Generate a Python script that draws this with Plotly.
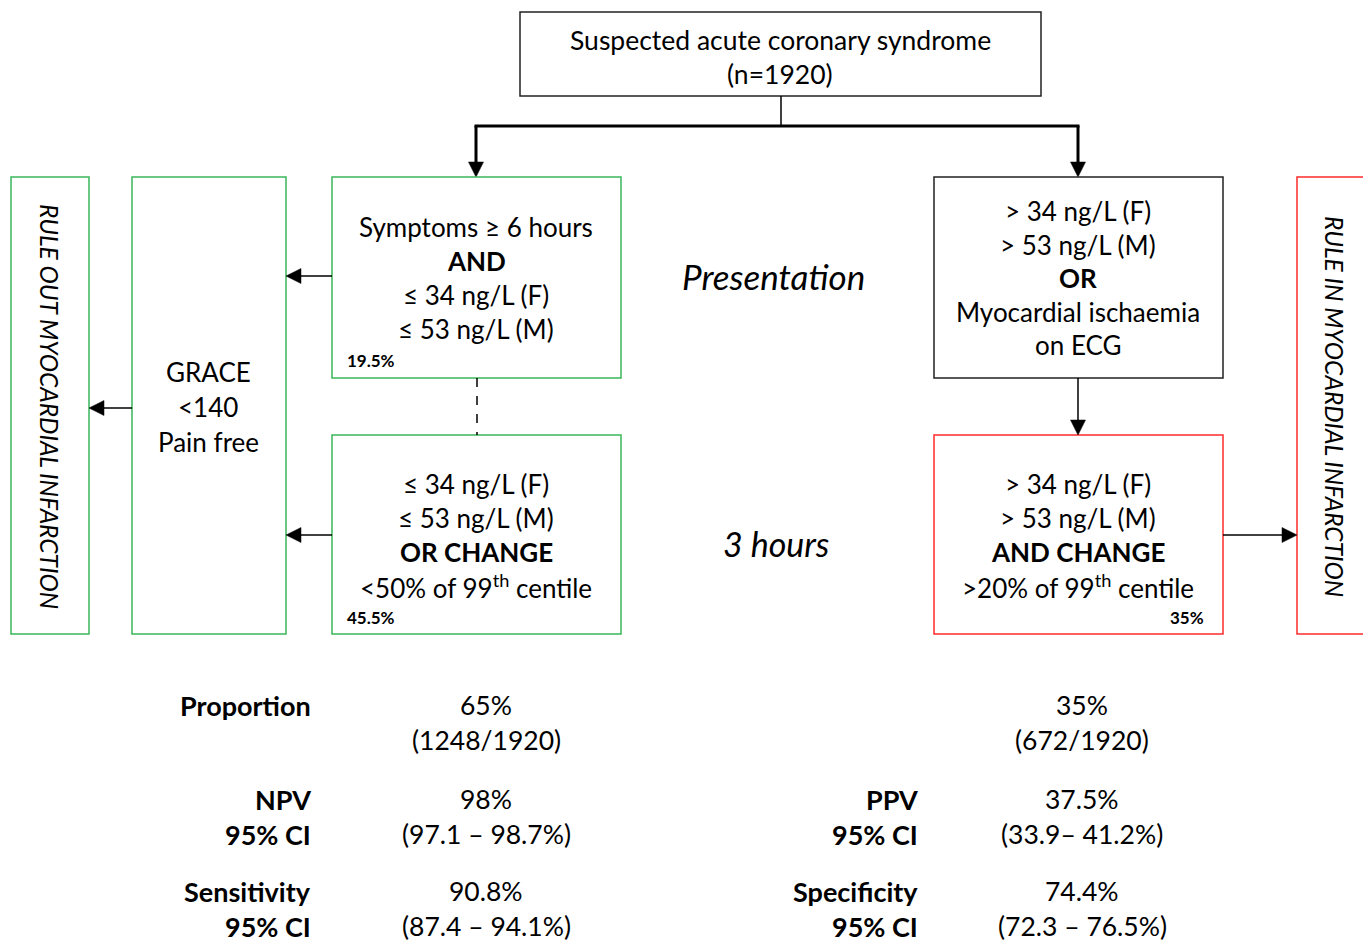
import plotly.graph_objects as go

# ---------------- data (texts) ----------------
top_lines = ["Suspected acute coronary syndrome", "(n=1920)"]
symptoms_lines = ["Symptoms ≥ 6 hours", "<b>AND</b>", "≤ 34 ng/L (F)", "≤ 53 ng/L (M)"]
symptoms_pct = "19.5%"
low3h_lines = ["≤ 34 ng/L (F)", "≤ 53 ng/L (M)", "<b>OR CHANGE</b>", "<50% of 99<sup>th</sup> centile"]
low3h_pct = "45.5%"
high_lines = ["> 34 ng/L (F)", "> 53 ng/L (M)", "<b>OR</b>", "Myocardial ischaemia", "on ECG"]
high3h_lines = ["> 34 ng/L (F)", "> 53 ng/L (M)", "<b>AND CHANGE</b>", ">20% of 99<sup>th</sup> centile"]
high3h_pct = "35%"
grace_lines = ["GRACE", "<140", "Pain free"]
rule_out_text = "RULE OUT MYOCARDIAL INFARCTION"
rule_in_text = "RULE IN MYOCARDIAL INFARCTION"
time_labels = ["Presentation", "3 hours"]

left_stat_labels = [["Proportion", ""], ["NPV", "95% CI"], ["Sensitivity", "95% CI"]]
left_stat_values = [["65%", "(1248/1920)"], ["98%", "(97.1 – 98.7%)"], ["90.8%", "(87.4 – 94.1%)"]]
right_stat_labels = [["", ""], ["PPV", "95% CI"], ["Specificity", "95% CI"]]
right_stat_values = [["35%", "(672/1920)"], ["37.5%", "(33.9– 41.2%)"], ["74.4%", "(72.3 – 76.5%)"]]

# ---------------- layout / style ----------------
W, H = 1363, 943
FONT = "Lato"
GREEN = "#3bb75a"
RED = "#ff2b2b"
BLACK = "#222222"
FS = 26

shapes = []
annotations = []


def box(x0, y0, x1, y1, color, width=1.5):
    shapes.append(dict(type="rect", xref="x", yref="y", x0=x0, y0=y0, x1=x1, y1=y1,
                       line=dict(color=color, width=width), fillcolor="rgba(0,0,0,0)"))


def line(x0, y0, x1, y1, width=1.5, dash="solid"):
    shapes.append(dict(type="line", xref="x", yref="y", x0=x0, y0=y0, x1=x1, y1=y1,
                       line=dict(color="black", width=width, dash=dash)))


def arrow(tx, ty, hx, hy, width=1.5, L=15, half=7.5):
    dx, dy = hx - tx, hy - ty
    n = (dx * dx + dy * dy) ** 0.5
    ux, uy = dx / n, dy / n
    bx, by = hx - ux * L, hy - uy * L
    px, py = -uy * half, ux * half
    line(tx, ty, bx + ux * 1, by + uy * 1, width=width)
    path = "M {:.2f},{:.2f} L {:.2f},{:.2f} L {:.2f},{:.2f} Z".format(
        hx, hy, bx + px, by + py, bx - px, by - py)
    shapes.append(dict(type="path", xref="x", yref="y", path=path,
                       fillcolor="black", line=dict(color="black", width=0.5)))


def text(x, y, s, size=FS, xanchor="center", angle=0, bold=False):
    if bold:
        s = "<b>" + s + "</b>"
    annotations.append(dict(x=x, y=y, xref="x", yref="y", text=s, showarrow=False,
                            xanchor=xanchor, yanchor="middle", textangle=angle,
                            borderpad=0,
                            font=dict(family=FONT, size=size, color="black")))


def lines_block(cx, first_y, lines, step=34, size=FS):
    for i, s in enumerate(lines):
        text(cx, first_y + i * step, s, size=size)


# top box
box(520, 12, 1041, 96, BLACK)
lines_block(780, 40, top_lines, size=26.5)
line(781, 96, 781, 126)
line(474.5, 126, 1079.5, 126, width=3)
arrow(476, 126, 476, 177, width=3)
arrow(1078, 126, 1078, 177, width=3)

# left column
box(11, 177, 89, 634, GREEN)
box(132, 177, 286, 634, GREEN)
box(332, 177, 621, 378, GREEN)
box(332, 435, 621, 634, GREEN)
text(50, 406, "<i>" + rule_out_text + "</i>", size=24.5, angle=90)
lines_block(208, 372, grace_lines, step=35)
lines_block(476, 227, symptoms_lines)
text(346, 360, symptoms_pct, size=17, xanchor="left", bold=True)
lines_block(476, 484, low3h_lines, step=34)
text(346, 617, low3h_pct, size=17, xanchor="left", bold=True)
line(477, 378, 477, 435, dash="dash")
arrow(332, 276, 286, 276)
arrow(332, 535, 286, 535)
arrow(132, 408, 89, 408)

# middle time labels
text(773, 276, "<i>" + time_labels[0] + "</i>", size=35)
text(776, 543, "<i>" + time_labels[1] + "</i>", size=34)

# right column
box(934, 177, 1223, 378, BLACK)
box(934, 435, 1223, 634, RED)
box(1297, 177, 1372, 634, RED)
lines_block(1078, 211, high_lines, step=33.5)
lines_block(1078, 484, high3h_lines, step=34)
text(1205, 617, high3h_pct, size=17, xanchor="right", bold=True)
text(1335, 406, "<i>" + rule_in_text + "</i>", size=24.5, angle=90)
arrow(1078, 378, 1078, 435)
arrow(1223, 535, 1297, 535)

# statistics
row_y = [705, 799, 891]
for i, y in enumerate(row_y):
    for j in range(2):
        yy = y + j * 35
        if left_stat_labels[i][j]:
            text(312, yy, left_stat_labels[i][j], size=27, xanchor="right", bold=True)
        text(486, yy, left_stat_values[i][j], size=26.5)
        if right_stat_labels[i][j]:
            text(919, yy, right_stat_labels[i][j], size=27, xanchor="right", bold=True)
        text(1082, yy, right_stat_values[i][j], size=26.5)

fig = go.Figure()
fig.update_layout(
    width=W, height=H,
    margin=dict(l=0, r=0, t=0, b=0),
    paper_bgcolor="white", plot_bgcolor="white",
    xaxis=dict(range=[0, W], visible=False, fixedrange=True),
    yaxis=dict(range=[H, 0], visible=False, fixedrange=True),
    shapes=shapes, annotations=annotations, showlegend=False,
)
fig.write_html("out.html", post_script="document.body.style.margin='0';",
               config={"displayModeBar": False})
